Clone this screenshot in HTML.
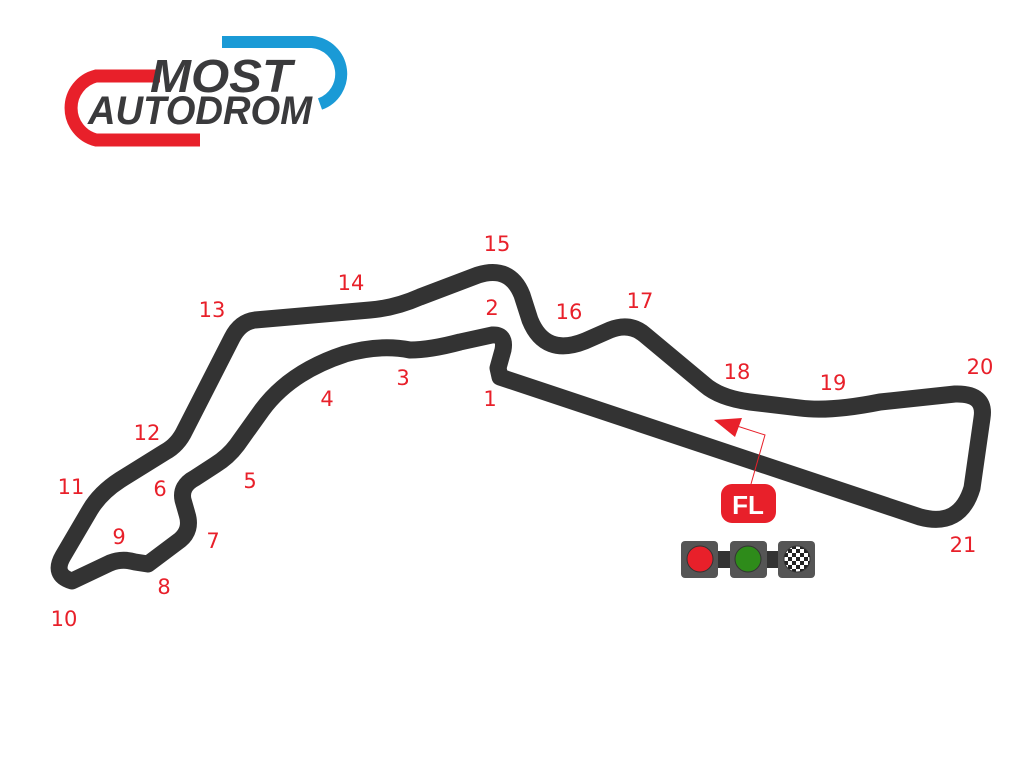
<!DOCTYPE html>
<html><head><meta charset="utf-8"><style>
html,body{margin:0;padding:0;background:#fff;}
svg{display:block}
text{font-family:"DejaVu Sans","Liberation Sans",sans-serif;}
</style></head><body>
<svg width="1024" height="771" viewBox="0 0 1024 771" xmlns="http://www.w3.org/2000/svg">
<!-- logo -->
<path d="M160 76 H96 A33 33 0 0 0 96 140 H200" fill="none" stroke="#e8202a" stroke-width="13"/>
<path d="M222 42 H312 A32 32 0 0 1 320 104" fill="none" stroke="#1a9ad6" stroke-width="12"/>
<text x="150" y="92" textLength="142" lengthAdjust="spacingAndGlyphs" font-weight="bold" font-style="italic" font-size="46" fill="#3a3a3c" style="font-family:'Liberation Sans',sans-serif">MOST</text>
<text x="88" y="124" textLength="224" lengthAdjust="spacingAndGlyphs" font-weight="bold" font-style="italic" font-size="40" fill="#3a3a3c" style="font-family:'Liberation Sans',sans-serif">AUTODROM</text>
<!-- track -->
<path d="M500 377 L920 517 Q960 528 972 488 L982 418 Q986 393 955 394 L880 402 Q830 412 800 408 L750 402 Q720 398 705 385 L645 335 Q630 322 610 330 L585 341 Q545 357 530 320 L522 295 Q510 265 478 275 L420 297 Q395 308 370 310 L255 320 Q240 322 232 338 L185 430 Q178 445 165 452 L120 480 Q100 493 90 510 L63 556 Q52 575 72 581 L110 563 Q122 558 135 562 L148 564 L180 540 Q192 530 187 514 L183 500 Q180 486 195 478 L215 465 Q228 457 237 445 L262 410 Q290 372 345 354 Q380 344 410 350 Q430 350 460 342 L492 335 Q506 334 503 350 L498 368 Z" fill="none" stroke="#333" stroke-width="17" stroke-linejoin="round"/>
<!-- labels -->
<g fill="#e8202a" font-size="21" text-anchor="middle">
<text x="497" y="251">15</text><text x="351" y="290">14</text><text x="212" y="317">13</text>
<text x="492" y="315">2</text><text x="569" y="319">16</text><text x="640" y="308">17</text>
<text x="403" y="385">3</text><text x="327" y="406">4</text><text x="490" y="406">1</text>
<text x="737" y="379">18</text><text x="833" y="390">19</text><text x="980" y="374">20</text>
<text x="147" y="440">12</text><text x="71" y="494">11</text><text x="160" y="496">6</text>
<text x="250" y="488">5</text><text x="119" y="544">9</text><text x="213" y="548">7</text>
<text x="164" y="594">8</text><text x="64" y="626">10</text><text x="963" y="552">21</text>
</g>
<!-- FL -->
<polyline points="751,484 765,435 737,426" fill="none" stroke="#e8202a" stroke-width="1"/>
<polygon points="714,420 742,418 735,437" fill="#e8202a"/>
<rect x="721" y="484" width="55" height="39" rx="11" fill="#e8202a"/>
<text x="748" y="514" font-size="26" font-weight="bold" fill="#fff" text-anchor="middle" style="font-family:'Liberation Sans',sans-serif">FL</text>
<!-- lights -->
<rect x="712" y="551" width="80" height="17" fill="#333"/>
<rect x="681" y="541" width="37" height="37" rx="4" fill="#555"/>
<rect x="730" y="541" width="37" height="37" rx="4" fill="#555"/>
<rect x="778" y="541" width="37" height="37" rx="4" fill="#555"/>
<circle cx="700" cy="559" r="13" fill="#e8202a" stroke="#333" stroke-width="1"/>
<circle cx="748" cy="559" r="13" fill="#2e8b1a" stroke="#333" stroke-width="1"/>
<defs><pattern id="chk" x="784" y="545" width="8" height="8" patternUnits="userSpaceOnUse"><rect width="8" height="8" fill="#fff"/><rect width="4" height="4" fill="#222"/><rect x="4" y="4" width="4" height="4" fill="#222"/></pattern></defs>
<circle cx="797" cy="559" r="13" fill="url(#chk)" stroke="#333" stroke-width="1"/>
</svg>
</body></html>
